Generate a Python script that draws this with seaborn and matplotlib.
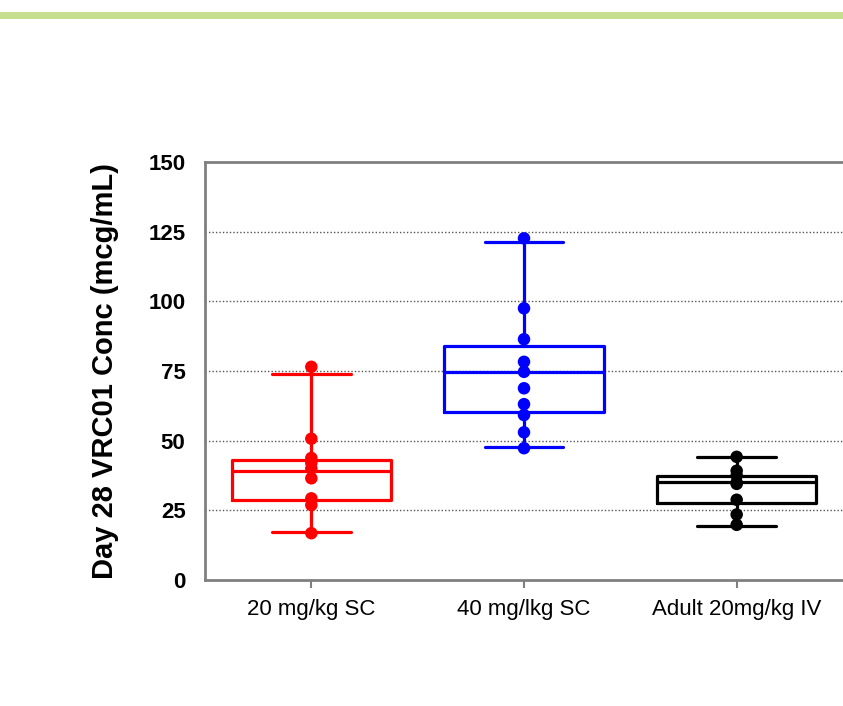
import numpy as np
import pandas as pd
import matplotlib
matplotlib.use("Agg")
import matplotlib.pyplot as plt
import seaborn as sns
from matplotlib.lines import Line2D

# Groups and colours
GROUPS = ["20 mg/kg SC", "40 mg/lkg SC", "Adult 20mg/kg IV"]
COLORS = ["#ff0000", "#0000ff", "#000000"]

# Individual values (mcg/mL)
low_sc = [76.5, 50.7, 43.8, 42.0, 40.0, 36.5, 29.3, 26.9, 16.8]
high_sc = [122.6, 97.5, 86.4, 78.3, 74.7, 68.8, 63.1, 59.2, 53.0, 47.3]
adult_iv = [44.2, 39.2, 37.5, 35.0, 34.5, 28.8, 23.5, 19.8]

# Box statistics as drawn in the chart
q1 = [28.7, 60.2, 27.7]
median = [39.1, 74.5, 35.3]
q3 = [43.1, 84.1, 37.4]
whis_lo = [17.3, 47.6, 19.4]
whis_hi = [73.9, 121.3, 44.0]

Y_TICKS = [0, 25, 50, 75, 100, 125, 150]

df = pd.DataFrame({
    "group": [GROUPS[0]] * len(low_sc) + [GROUPS[1]] * len(high_sc) + [GROUPS[2]] * len(adult_iv),
    "conc": low_sc + high_sc + adult_iv,
})

sns.set_theme(style="white")
plt.rcParams["font.family"] = ["Liberation Sans", "DejaVu Sans"]
plt.rcParams["text.color"] = "black"
plt.rcParams["axes.labelcolor"] = "black"
plt.rcParams["xtick.labelcolor"] = "black"
plt.rcParams["ytick.labelcolor"] = "black"

fig = plt.figure(figsize=(8.43, 7.06), dpi=100)
ax = fig.add_axes([205 / 843, 1 - 580 / 706, (843 - 205) / 843, (580 - 162) / 706])

# green rule at the top of the slide
fig.add_artist(Line2D([0, 1], [1 - 15 / 706, 1 - 15 / 706], transform=fig.transFigure,
                      color="#c6df8f", lw=5))

# dotted grid
for yv in Y_TICKS[1:-1]:
    ax.axhline(yv, color="#555555", lw=1, ls=(0, (1, 1.5)), zorder=0)

# boxes from the stats
for i, c in enumerate(COLORS):
    stats = [dict(med=median[i], q1=q1[i], q3=q3[i], whislo=whis_lo[i], whishi=whis_hi[i], fliers=[])]
    lp = dict(color=c, lw=2.3)
    ax.bxp(stats, positions=[i], widths=0.75, showfliers=False,
           boxprops=lp, medianprops=lp, whiskerprops=lp,
           capprops=dict(color=c, lw=2.3), capwidths=0.37, manage_ticks=False)

sns.stripplot(data=df, x="group", y="conc", hue="group", palette=COLORS, order=GROUPS,
              jitter=False, size=9, linewidth=0, ax=ax, legend=False, zorder=3)

ax.set_xlim(-0.5, 2.5)
ax.set_ylim(0, 150)
ax.set_yticks(Y_TICKS)
ax.set_xticks(range(3))
ax.set_xticklabels(GROUPS)
ax.set_xlabel("")
ax.set_ylabel("Day 28 VRC01 Conc (mcg/mL)", fontsize=21, fontweight="bold")
ax.yaxis.set_label_coords(-0.135, 0.5)

ax.tick_params(axis="y", length=0, pad=14, labelsize=16)
for lab in ax.get_yticklabels():
    lab.set_fontweight("bold")
ax.tick_params(axis="x", length=6, width=1.5, color="#808080", direction="out",
               pad=8, labelsize=16, bottom=True)

for s in ["left", "bottom", "top"]:
    ax.spines[s].set_color("#808080")
    ax.spines[s].set_linewidth(2)
ax.spines["right"].set_visible(False)

fig.savefig("out.png", dpi=100)
